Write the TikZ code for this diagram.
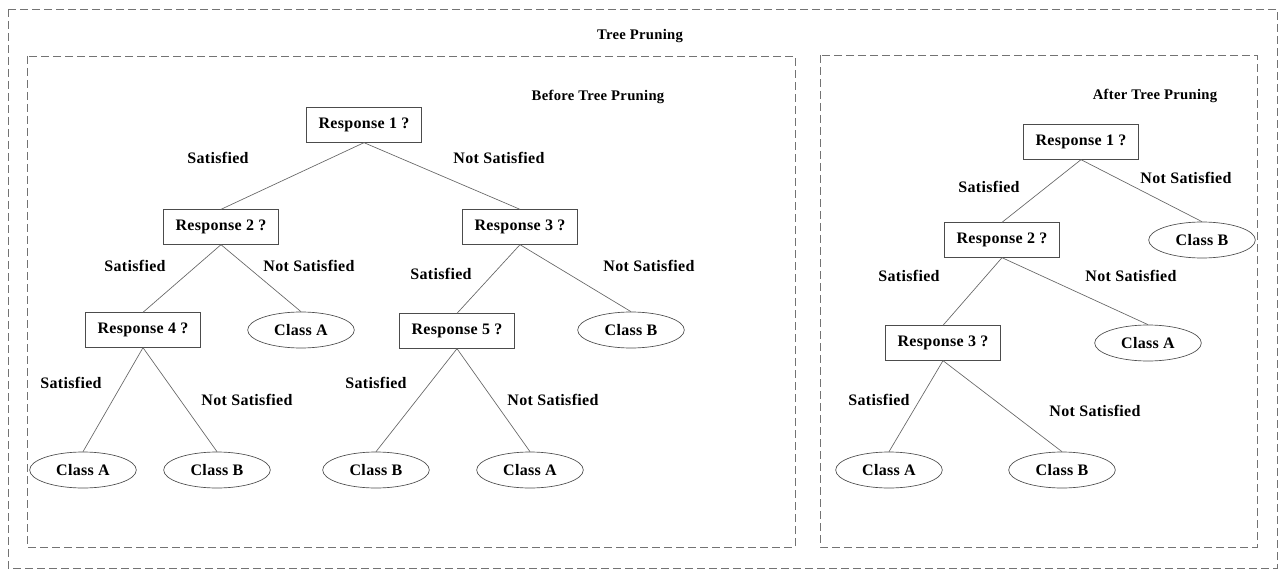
\documentclass[tikz,border=0pt]{standalone}
\usepackage{fontspec}
\setmainfont[LetterSpace=2]{Liberation Serif}
\usepackage{tikz}
\usetikzlibrary{shapes,positioning}

\begin{document}
\begin{tikzpicture}[
        x=0.75pt, y=-0.75pt,
        % Styles
        question/.style={
            rectangle,
            draw=black!70,
            line width=0.5pt,
            minimum width=86pt,
            minimum height=26pt,
            font=\fontsize{12}{14}\selectfont\bfseries
        },
        leaf/.style={
            ellipse,
            draw=black!70,
            line width=0.5pt,
            inner sep=0pt,
            minimum width=80pt,
            minimum height=27pt,
            font=\fontsize{12}{14}\selectfont\bfseries
        },
        branch/.style={
            font=\fontsize{12}{14}\selectfont\bfseries
        },
        heading/.style={
            font=\fontsize{11}{13}\selectfont\bfseries
        },
        edge/.style={
            draw=black!60,
            line width=0.5pt
        },
        frame/.style={
            draw=black!55,
            line width=0.7pt,
            dash pattern=on 6pt off 3pt
        }
    ]

    \useasboundingbox (0,0) rectangle (1280,570);

    % Frames
    \draw[frame] (8,9) rectangle (1277,568);
    \draw[frame] (27,56) rectangle (795,547);
    \draw[frame] (820,55) rectangle (1257,547);

    % Headings
    \node[heading] (title) at (640,36) {Tree Pruning};
    \node[heading] (before) at (598,97) {Before Tree Pruning};
    \node[heading] (after) at (1155,96) {After Tree Pruning};

    % Tree before pruning
    \node[question] (b1) at (364,125) {Response 1 ?};
    \node[question] (b2) at (221,227) {Response 2 ?};
    \node[question] (b3) at (520,227) {Response 3 ?};
    \node[question] (b4) at (143,330) {Response 4 ?};
    \node[leaf] (b2n) at (301,330) {Class A};
    \node[question] (b5) at (457,331) {Response 5 ?};
    \node[leaf] (b3n) at (631,330) {Class B};
    \node[leaf] (b4s) at (83,470) {Class A};
    \node[leaf] (b4n) at (217,470) {Class B};
    \node[leaf] (b5s) at (376,470) {Class B};
    \node[leaf] (b5n) at (530,470) {Class A};

    \draw[edge] (b1.south) -- (b2.north);
    \draw[edge] (b1.south) -- (b3.north);
    \draw[edge] (b2.south) -- (b4.north);
    \draw[edge] (b2.south) -- (b2n.north);
    \draw[edge] (b3.south) -- (b5.north);
    \draw[edge] (b3.south) -- (b3n.north);
    \draw[edge] (b4.south) -- (b4s.north);
    \draw[edge] (b4.south) -- (b4n.north);
    \draw[edge] (b5.south) -- (b5s.north);
    \draw[edge] (b5.south) -- (b5n.north);

    \node[branch] (l1s) at (218,158) {Satisfied};
    \node[branch] (l1n) at (499,158) {Not Satisfied};
    \node[branch] (l2s) at (135,266) {Satisfied};
    \node[branch] (l2n) at (309,266) {Not Satisfied};
    \node[branch] (l3s) at (441,274) {Satisfied};
    \node[branch] (l3n) at (649,266) {Not Satisfied};
    \node[branch] (l4s) at (71,383) {Satisfied};
    \node[branch] (l4n) at (247,400) {Not Satisfied};
    \node[branch] (l5s) at (376,383) {Satisfied};
    \node[branch] (l5n) at (553,400) {Not Satisfied};

    % Tree after pruning
    \node[question] (a1) at (1081,142) {Response 1 ?};
    \node[question] (a2) at (1002,240) {Response 2 ?};
    \node[leaf] (a1n) at (1202,240) {Class B};
    \node[question] (a3) at (943,343) {Response 3 ?};
    \node[leaf] (a2n) at (1148,343) {Class A};
    \node[leaf] (a3s) at (889,470) {Class A};
    \node[leaf] (a3n) at (1062,470) {Class B};

    \draw[edge] (a1.south) -- (a2.north);
    \draw[edge] (a1.south) -- (a1n.north);
    \draw[edge] (a2.south) -- (a3.north);
    \draw[edge] (a2.south) -- (a2n.north);
    \draw[edge] (a3.south) -- (a3s.north);
    \draw[edge] (a3.south) -- (a3n.north);

    \node[branch] (m1s) at (989,187) {Satisfied};
    \node[branch] (m1n) at (1186,178) {Not Satisfied};
    \node[branch] (m2s) at (909,276) {Satisfied};
    \node[branch] (m2n) at (1131,276) {Not Satisfied};
    \node[branch] (m3s) at (879,400) {Satisfied};
    \node[branch] (m3n) at (1095,411) {Not Satisfied};

\end{tikzpicture}
\end{document}
